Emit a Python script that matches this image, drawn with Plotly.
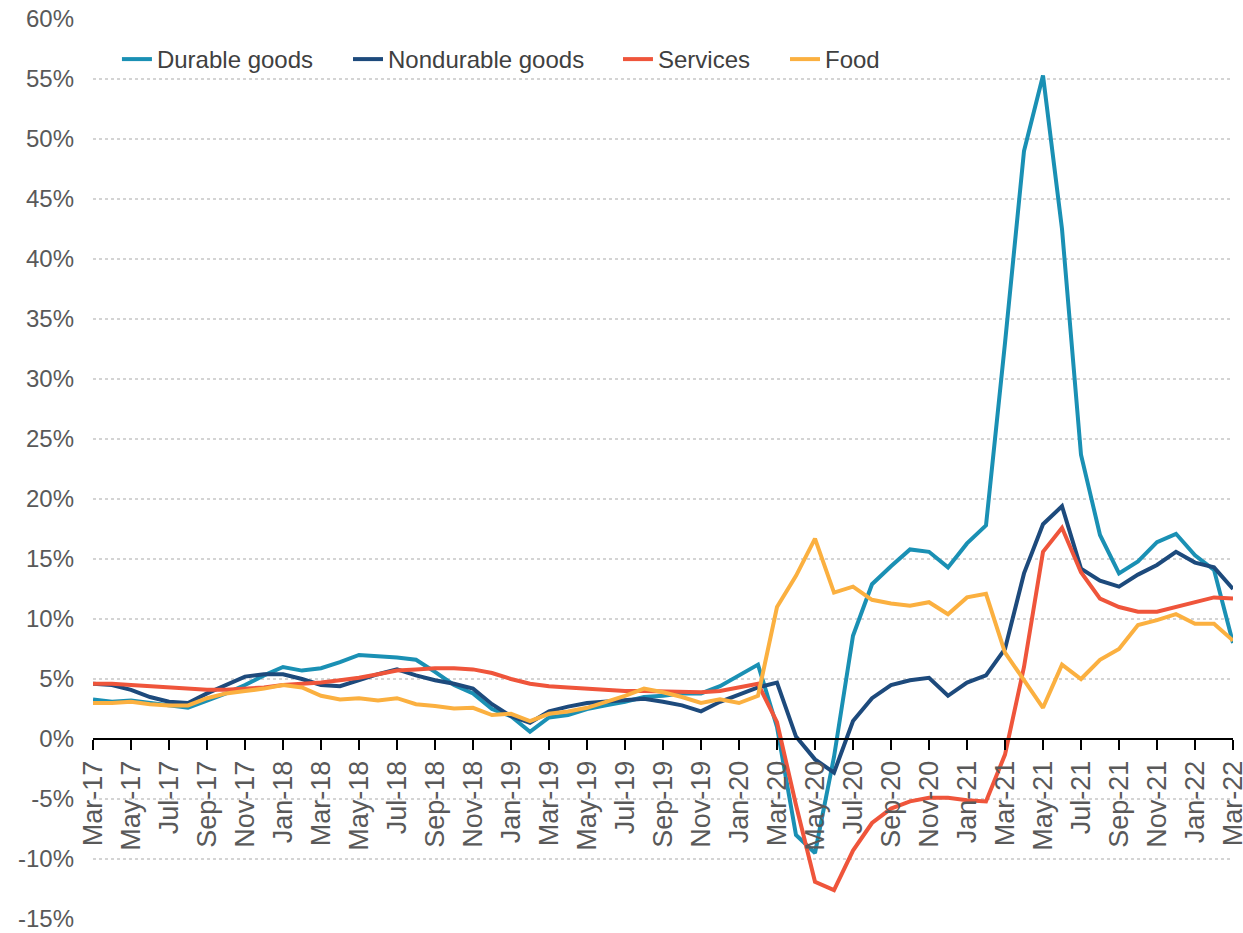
import plotly.graph_objects as go

months = [
    "Mar-17", "Apr-17", "May-17", "Jun-17", "Jul-17", "Aug-17", "Sep-17", "Oct-17", "Nov-17", "Dec-17",
    "Jan-18", "Feb-18", "Mar-18", "Apr-18", "May-18", "Jun-18", "Jul-18", "Aug-18", "Sep-18", "Oct-18",
    "Nov-18", "Dec-18", "Jan-19", "Feb-19", "Mar-19", "Apr-19", "May-19", "Jun-19", "Jul-19", "Aug-19",
    "Sep-19", "Oct-19", "Nov-19", "Dec-19", "Jan-20", "Feb-20", "Mar-20", "Apr-20", "May-20", "Jun-20",
    "Jul-20", "Aug-20", "Sep-20", "Oct-20", "Nov-20", "Dec-20", "Jan-21", "Feb-21", "Mar-21", "Apr-21",
    "May-21", "Jun-21", "Jul-21", "Aug-21", "Sep-21", "Oct-21", "Nov-21", "Dec-21", "Jan-22", "Feb-22",
    "Mar-22",
]

durable_goods = [
    3.3, 3.1, 3.2, 3.0, 2.8, 2.6, 3.2, 3.8, 4.5, 5.3,
    6.0, 5.7, 5.9, 6.4, 7.0, 6.9, 6.8, 6.6, 5.6, 4.5,
    3.8, 2.5, 1.9, 0.6, 1.8, 2.0, 2.5, 2.8, 3.1, 3.5,
    3.6, 3.8, 3.8, 4.4, 5.3, 6.2, 1.0, -8.0, -9.5, -1.5,
    8.6, 12.9, 14.4, 15.8, 15.6, 14.3, 16.3, 17.8, 33.0, 49.0,
    55.3, 42.5, 23.7, 17.0, 13.8, 14.8, 16.4, 17.1, 15.3, 14.1,
    8.0,
]

nondurable_goods = [
    4.6, 4.5, 4.1, 3.5, 3.1, 3.0, 3.8, 4.5, 5.2, 5.4,
    5.4, 5.0, 4.5, 4.4, 4.9, 5.4, 5.8, 5.3, 4.9, 4.6,
    4.2, 2.9, 1.9, 1.35, 2.3, 2.7, 3.0, 3.1, 3.2, 3.35,
    3.1, 2.8, 2.3, 3.1, 3.7, 4.3, 4.7, 0.2, -1.7, -2.8,
    1.5, 3.4, 4.5, 4.9, 5.1, 3.6, 4.7, 5.3, 7.5, 13.8,
    17.9, 19.4, 14.2, 13.2, 12.7, 13.7, 14.5, 15.6, 14.7, 14.3,
    12.5,
]

services = [
    4.6, 4.6, 4.5, 4.4, 4.3, 4.2, 4.1, 4.1, 4.2, 4.3,
    4.5, 4.6, 4.7, 4.9, 5.1, 5.4, 5.7, 5.8, 5.9, 5.9,
    5.8, 5.5, 5.0, 4.6, 4.4, 4.3, 4.2, 4.1, 4.0, 4.0,
    3.95, 3.9, 3.9, 4.0, 4.3, 4.6, 1.4, -5.5, -11.9, -12.6,
    -9.3, -7.0, -5.8, -5.2, -4.9, -4.9, -5.1, -5.2, -1.3, 6.0,
    15.6, 17.6, 13.9, 11.7, 11.0, 10.6, 10.6, 11.0, 11.4, 11.8,
    11.7,
]

food = [
    3.0, 3.0, 3.1, 2.9, 2.8, 2.8, 3.4, 3.8, 4.0, 4.2,
    4.5, 4.3, 3.6, 3.3, 3.4, 3.2, 3.4, 2.9, 2.75, 2.55,
    2.6, 2.0, 2.1, 1.5, 2.1, 2.3, 2.6, 3.1, 3.6, 4.2,
    3.9, 3.5, 3.0, 3.3, 3.0, 3.6, 11.0, 13.6, 16.7, 12.2,
    12.7, 11.6, 11.3, 11.1, 11.4, 10.4, 11.8, 12.1, 7.2, 4.9,
    2.6, 6.2, 5.0, 6.6, 7.5, 9.5, 9.9, 10.4, 9.6, 9.6,
    8.2,
]

y_tickvals = [-15, -10, -5, 0, 5, 10, 15, 20, 25, 30, 35, 40, 45, 50, 55, 60]
y_ticktext = ["-15%", "-10%", "-5%", "0%", "5%", "10%", "15%", "20%", "25%",
              "30%", "35%", "40%", "45%", "50%", "55%", "60%"]

series_names = ["Durable goods", "Nondurable goods", "Services", "Food"]
series_colors = ["#1a90b4", "#1d4a7c", "#ef553b", "#fbb040"]
series_values = [durable_goods, nondurable_goods, services, food]
legend_ids = ["legend", "legend2", "legend3", "legend4"]
legend_x = [0.021, 0.2237, 0.4605, 0.607]

y_min, y_max = -15, 60

fig = go.Figure()
for name, vals, color, lg in zip(series_names, series_values, series_colors, legend_ids):
    fig.add_trace(go.Scatter(
        x=months, y=vals, mode="lines", name=name, legend=lg,
        line=dict(color=color, width=4),
    ))

legend_common = dict(
    orientation="h", y=0.955, xanchor="left", yanchor="middle",
    font=dict(size=24, color="#404040", family="Arial, Liberation Sans, sans-serif"),
    bgcolor="rgba(0,0,0,0)",
)

layout_legends = {}
for lg, lx in zip(legend_ids, legend_x):
    layout_legends[lg] = dict(legend_common, x=lx)

fig.update_layout(
    width=1243, height=933,
    margin=dict(l=93, r=10, t=19, b=14),
    plot_bgcolor="white", paper_bgcolor="white",
    font=dict(family="Arial, Liberation Sans, sans-serif", color="#595959", size=24),
    showlegend=True,
    xaxis=dict(
        type="category", range=[0, len(months) - 1],
        anchor="free", position=(0 - y_min) / (y_max - y_min),
        showline=True, linecolor="black", linewidth=2,
        ticks="outside", ticklen=10, tickwidth=2, tickcolor="black",
        tickmode="array", tickvals=months[::2], ticktext=months[::2],
        tickangle=-90, tickfont=dict(size=27, color="#595959"),
        showgrid=False, zeroline=False, automargin=False,
    ),
    yaxis=dict(
        range=[y_min, y_max],
        tickmode="array", tickvals=y_tickvals, ticktext=y_ticktext,
        showgrid=True, gridcolor="#d4d4d4", griddash="dot", gridwidth=2,
        zeroline=False, showline=False, ticks="",
        ticklabelstandoff=18, automargin=False,
        tickfont=dict(size=24, color="#595959"),
    ),
    **layout_legends,
)

fig.write_html("out.html")
